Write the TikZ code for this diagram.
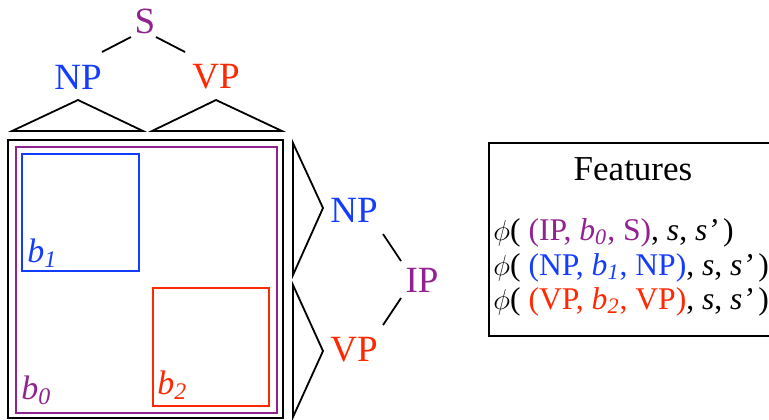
\documentclass[tikz,border=0pt]{standalone}
\usepackage{fontspec}
\setmainfont{Liberation Serif}
\usepackage{tikz}
\definecolor{tpurple}{RGB}{145,35,145}
\definecolor{tblue}{RGB}{20,60,255}
\definecolor{tred}{RGB}{255,40,0}
\tikzset{cat/.style={font=\fontsize{18.5}{20}\selectfont, inner sep=1pt},
  blabel/.style={font=\fontsize{17}{19}\selectfont\itshape, anchor=base west, inner sep=0pt},
  feat/.style={font=\fontsize{15.8}{19}\selectfont, anchor=base west, inner sep=0pt},
  branch/.style={line width=0.9pt}}

\begin{document}
\begin{tikzpicture}[x=0.5pt,y=-0.5pt]
\useasboundingbox (0,0) rectangle (769,419);
% top tree
\node[cat,tpurple] (S) at (145,21) {S};
\node[cat,tblue] (NP-1) at (78,77) {NP};
\node[cat,tred] (VP-1) at (216,77) {VP};

\draw[branch] ([shift={(-14,16)}]S.center) -- ([shift={(24,-25)}]NP-1.center);
\draw[branch] ([shift={(11,16)}]S.center) -- ([shift={(-31,-25)}]VP-1.center);

\draw[branch] (12,131) -- (78,100) -- (143,131) -- cycle;
\draw[branch] (152,131) -- (216,100) -- (282,131) -- cycle;

% side tree
\node[cat,tblue] (NP-2) at (354,210) {NP};
\node[cat,tred] (VP-2) at (354,350) {VP};
\node[cat,tpurple] (IP) at (422,280) {IP};

\draw[branch] ([shift={(29,24)}]NP-2.center) -- ([shift={(-21,-19)}]IP.center);
\draw[branch] ([shift={(-21,18)}]IP.center) -- ([shift={(29,-25)}]VP-2.center);

\draw[branch] (293,143) -- (323,208) -- (293,275) -- cycle;
\draw[branch] (293,285) -- (323,351) -- (293,417) -- cycle;

% boxes
\draw[line width=0.9pt] (8,140) rectangle (283,418);
\draw[tpurple,line width=0.9pt] (16,147) rectangle (277,413);
\draw[tblue,line width=0.9pt] (22,154) rectangle (139,271);
\draw[tred,line width=0.9pt] (153,288) rectangle (269,406);

\node[blabel,tblue] (b1) at (27,262) {b\textsubscript{1}};
\node[blabel,tpurple] (b0) at (21,399) {b\textsubscript{0}};
\node[blabel,tred] (b2) at (157,394) {b\textsubscript{2}};

% features
\draw[line width=0.9pt] (489,143) rectangle (769.5,336);
\node[font=\fontsize{17.5}{20}\selectfont, anchor=base, inner sep=0pt] (title) at (633,180) {Features};
\node[feat] (f0) at (493,240) {$\phi$( \textcolor{tpurple}{(IP, \textit{b\textsubscript{0}}, S)}, \textit{s}, \textit{s'}\,)};
\node[feat] (f1) at (493,275) {$\phi$( \textcolor{tblue}{(NP, \textit{b\textsubscript{1}}, NP)}, \textit{s}, \textit{s'}\,)};
\node[feat] (f2) at (493,309) {$\phi$( \textcolor{tred}{(VP, \textit{b\textsubscript{2}}, VP)}, \textit{s}, \textit{s'}\,)};
\end{tikzpicture}
\end{document}
